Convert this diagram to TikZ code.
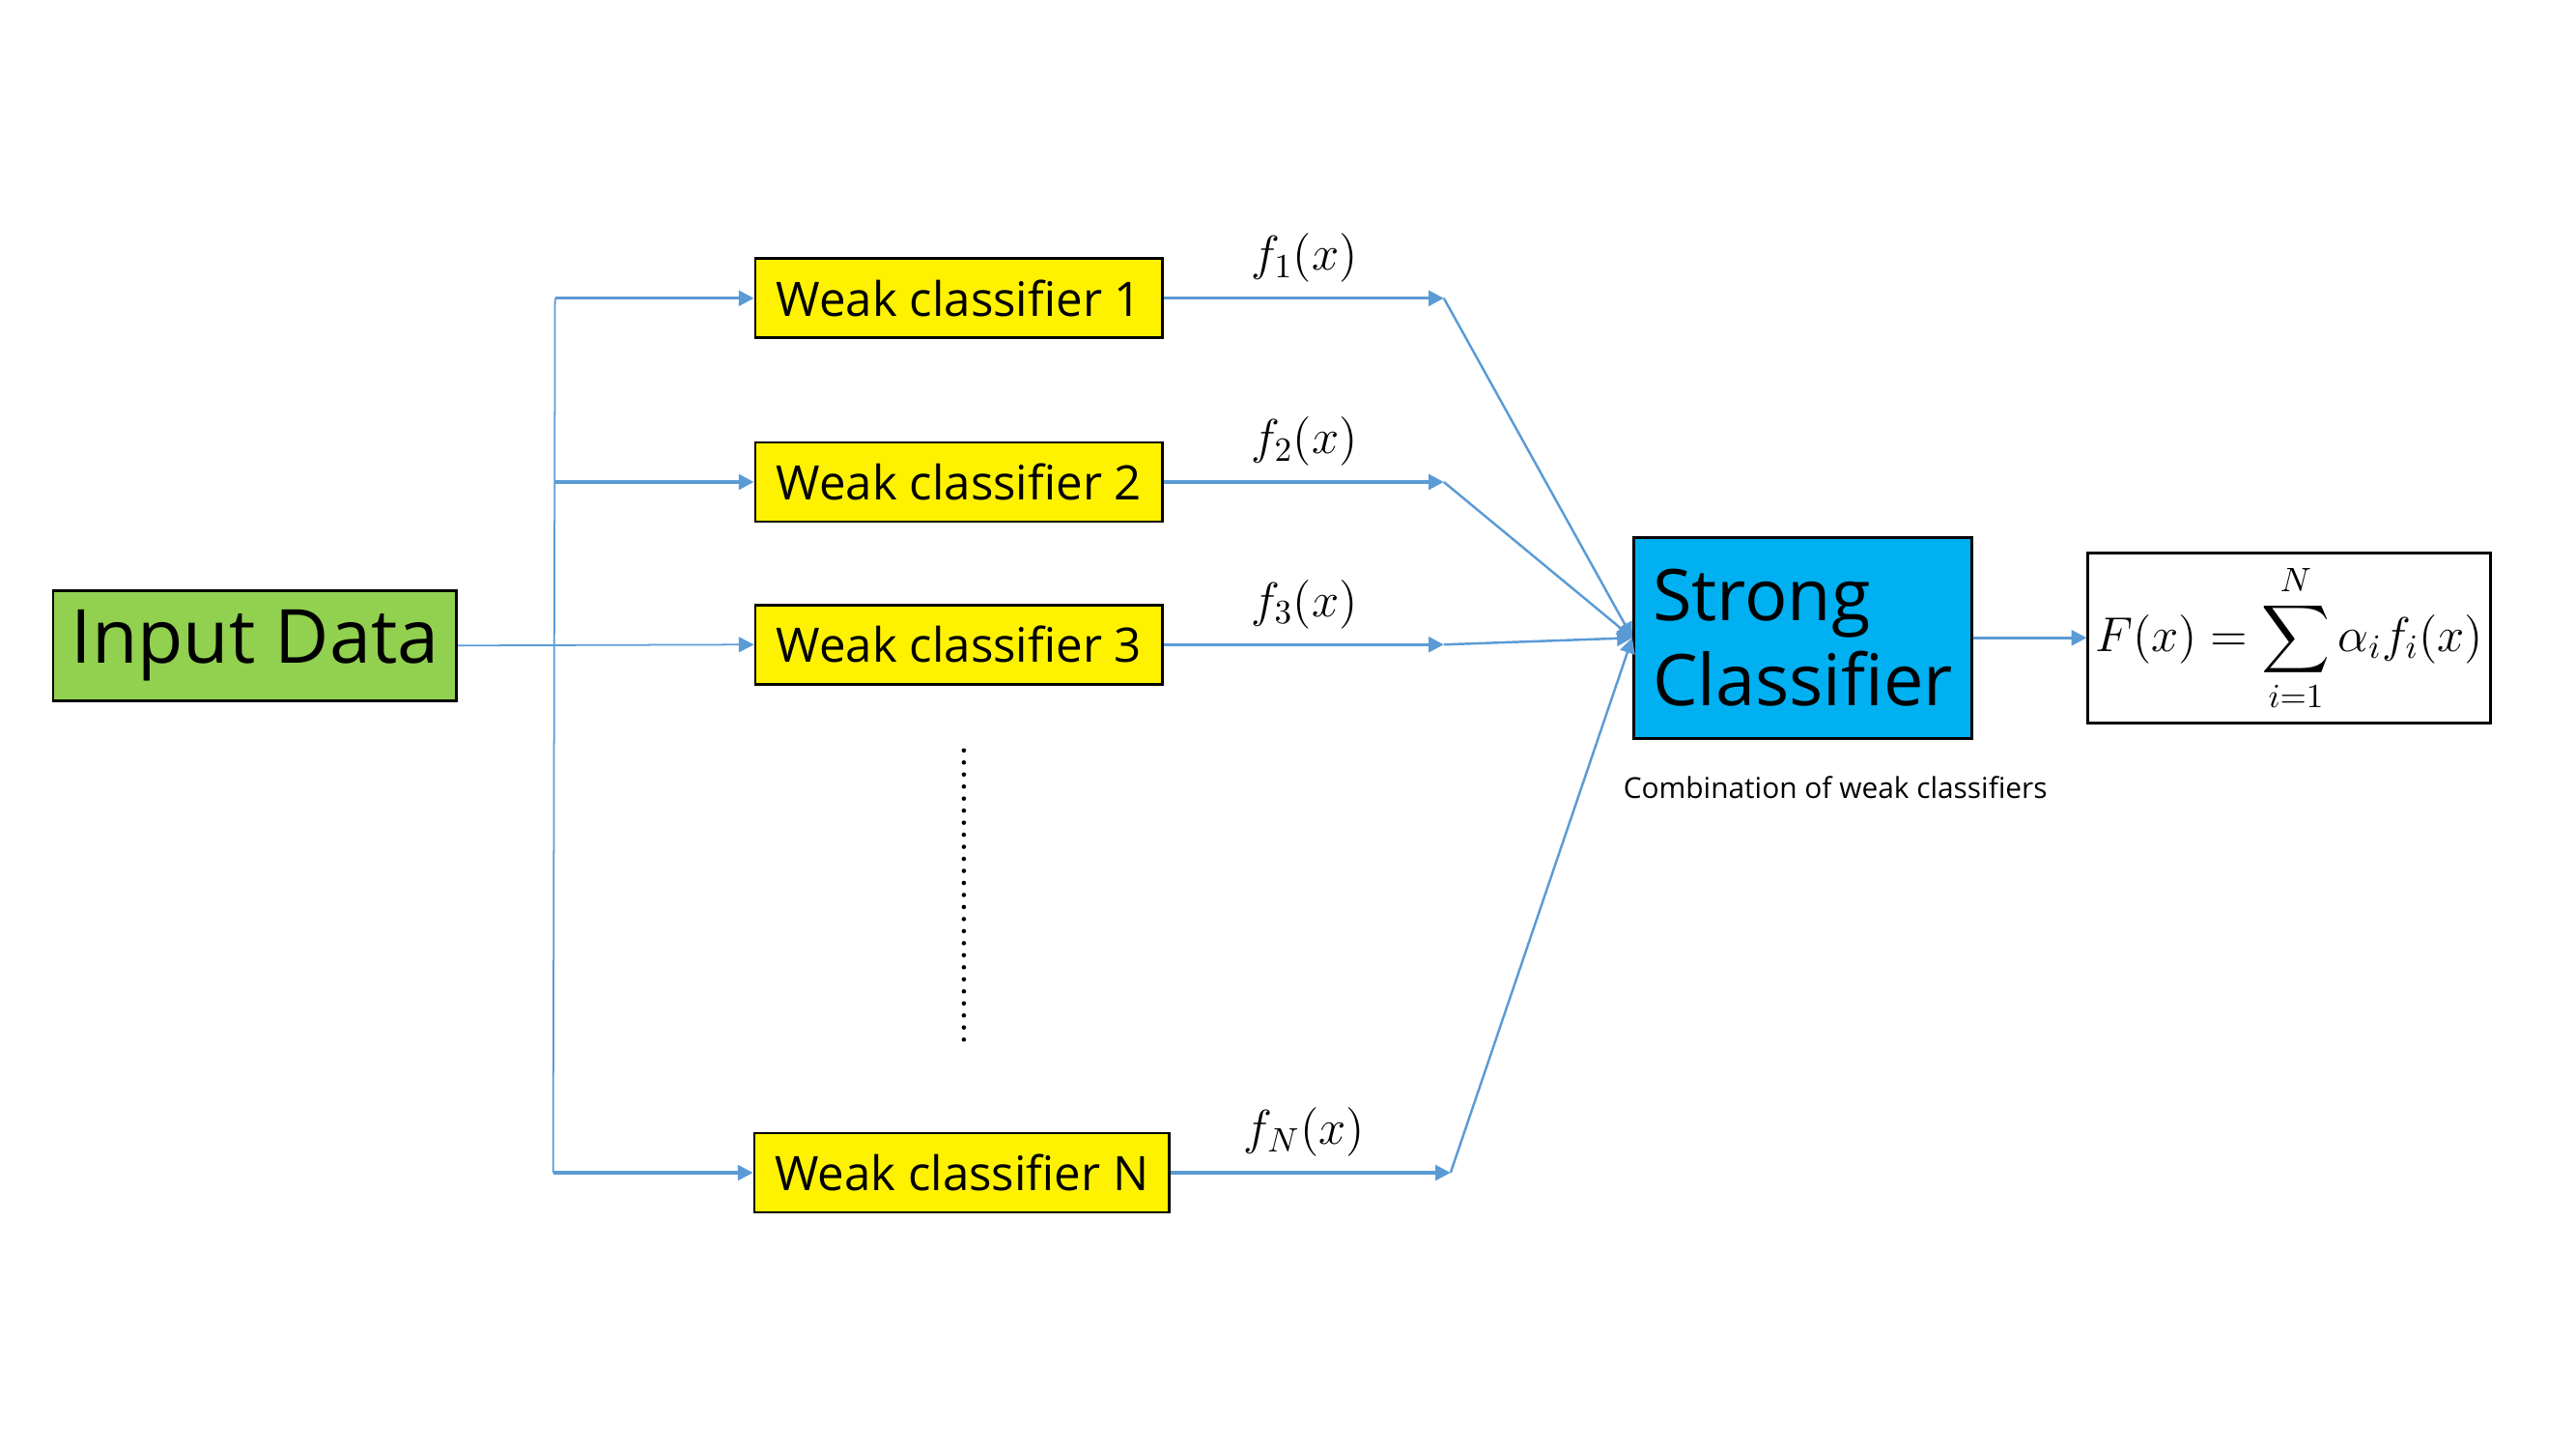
\documentclass[tikz,border=0pt]{standalone}
\usepackage{amsmath,amssymb}
\usepackage{fontspec}
\setmainfont{Open Sans}
\usepackage{tikz}
\usetikzlibrary{arrows.meta,calc,positioning}
\definecolor{flowblue}{HTML}{5B9BD5}
\definecolor{inputgreen}{HTML}{92D050}
\definecolor{strongblue}{HTML}{00B0F0}
\tikzset{
  box/.style={draw, line width=0.8pt, inner sep=0pt},
  inputbox/.style={box, fill=inputgreen, minimum width=4.18cm, minimum height=1.14cm, font=\fontsize{22}{26}\selectfont},
  weak/.style={box, fill=yellow, minimum width=4.22cm, minimum height=0.82cm, font=\fontsize{14}{17}\selectfont},
  strongbox/.style={box, fill=strongblue, minimum width=3.50cm, minimum height=2.08cm, align=left, font=\fontsize{21}{25}\selectfont},
  formulabox/.style={box, fill=white, minimum width=4.17cm, minimum height=1.76cm, font=\fontsize{14}{17}\selectfont},
  flow/.style={-{Triangle[length=4.5pt,width=4.5pt]}, flowblue, line width=0.9pt},
  thinline/.style={flowblue, line width=0.5pt},
  flabel/.style={font=\fontsize{14}{17}\selectfont, inner sep=0pt}
}
\begin{document}
\begin{tikzpicture}[x=0.00996cm, y=-0.00996cm]
  \useasboundingbox (0,0) rectangle (2678,1506);
  % boxes
  \node[inputbox] (input) at (265,671) {Input Data};
  \foreach \i/\y in {1/310, 2/501, 3/670}{%
    \node[weak] (wc\i) at (997,\y) {Weak classifier \i};
  }
  \node[weak, minimum width=4.30cm] (wcN) at (1000,1219) {Weak classifier N};
  \node[strongbox] (strong) at (1874,663) {Strong\\Classifier};
  \node[formulabox] (formula) at (2380,663) {$\displaystyle F(x) = \sum_{i=1}^{N} \alpha_i f_i(x)$};
  \node[font=\fontsize{8.5}{10}\selectfont, inner sep=0pt] (comb) at (1908,819) {Combination of weak classifiers};
  % splitting line on the left
  \coordinate (top) at (577,310);
  \coordinate (bot) at (575,1219);
  \draw[thinline] (top) -- (bot);
  \draw[thinline, -{Triangle[length=4.5pt,width=4.5pt]}] (input.east) -- (wc3.west);
  \draw[flow] (top) -- (wc1.west);
  \draw[flow] (top |- wc2.west) -- (wc2.west);
  \draw[flow] (bot) -- (wcN.west);
  % outputs and fan-in
  \foreach \i/\x/\y in {1/1501/310, 2/1501/501, 3/1501/670, N/1508/1219}{%
    \coordinate (j\i) at (\x,\y);
    \draw[flow] (wc\i.east) -- (j\i);
    \draw[flow, line width=0.7pt] (j\i) -- (strong.west);
    \node[flabel] (f\i) at (1356,{\y-42}) {$f_{\i}(x)$};
  }
  \draw[flow] (strong.east) -- (formula.west);
  % dots between classifier 3 and N
  \coordinate (dtop) at (1002,780);
  \coordinate (dbot) at (1002,1081);
  \draw[line width=1.3pt, line cap=round, dash pattern=on 0pt off 3.55pt] (dtop) -- (dbot);
\end{tikzpicture}
\end{document}
